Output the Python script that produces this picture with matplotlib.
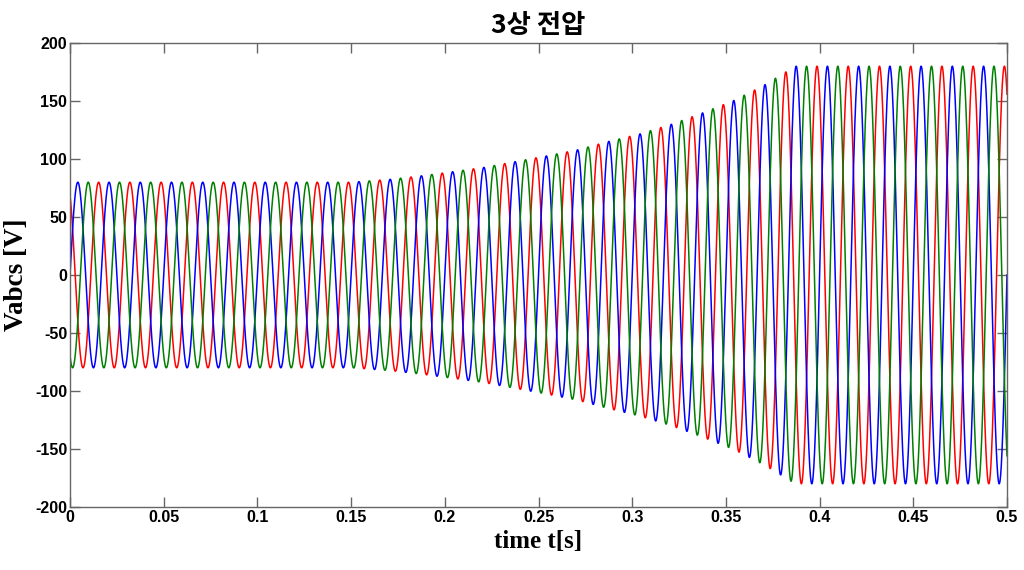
import numpy as np
import matplotlib
matplotlib.use("Agg")
import matplotlib.pyplot as plt

plt.rcParams['axes.unicode_minus'] = False

# envelope (peak voltage)
env_t = [0.0, 0.150, 0.171, 0.188, 0.204, 0.221, 0.2375, 0.254, 0.271, 0.287,
         0.304, 0.321, 0.337, 0.354, 0.3705, 0.387, 0.5]
env_v = [80, 80, 82.5, 85.6, 89.0, 92.8, 97.7, 102.6, 108.0, 115.0,
         121.6, 130.0, 139.4, 150.3, 163.8, 180.0, 180.0]
freq = 60.0  # Hz
phases = [0.0, -2*np.pi/3, 2*np.pi/3]   # a, b, c
colors = ['#0000ff', '#008000', '#ff0000']
xticks = [0, 0.05, 0.1, 0.15, 0.2, 0.25, 0.3, 0.35, 0.4, 0.45, 0.5]
xticklabels = ['0', '0.05', '0.1', '0.15', '0.2', '0.25', '0.3', '0.35', '0.4', '0.45', '0.5']
yticks = [-200, -150, -100, -50, 0, 50, 100, 150, 200]

t = np.linspace(0, 0.5, 8001)
amp = np.interp(t, env_t, env_v)

fig = plt.figure(figsize=(10.24, 5.70), dpi=100)
ax = fig.add_axes([70/1024, 1-507/570, 937/1024, 464/570])

for k in [2, 0, 1]:
    ax.plot(t, amp*np.sin(2*np.pi*freq*t + phases[k]), color=colors[k], lw=1.1)

ax.set_xlim(0, 0.5)
ax.set_ylim(-200, 200)
ax.set_xticks(xticks)
ax.set_xticklabels(xticklabels)
ax.set_yticks(yticks)

for lab in ax.get_xticklabels() + ax.get_yticklabels():
    lab.set_fontfamily(['Liberation Sans', 'DejaVu Sans'])
    lab.set_fontweight('bold')
    lab.set_fontsize(11.5)

ax.tick_params(direction='in', length=7, width=1, color='#666666',
               top=True, right=True, pad=2)
for s in ax.spines.values():
    s.set_color('#666666')
    s.set_linewidth(1)

ax.set_xlabel('time t[s]', family=['Liberation Serif'], weight='bold', fontsize=18, labelpad=4)
ax.set_ylabel('Vabcs [V]', family=['Liberation Serif'], weight='bold', fontsize=19.5, labelpad=4)
ax.set_title('3상 전압', family=['Noto Sans CJK KR', 'DejaVu Sans'], weight='bold',
             fontsize=19, pad=7)

fig.savefig('out.png', dpi=100)
